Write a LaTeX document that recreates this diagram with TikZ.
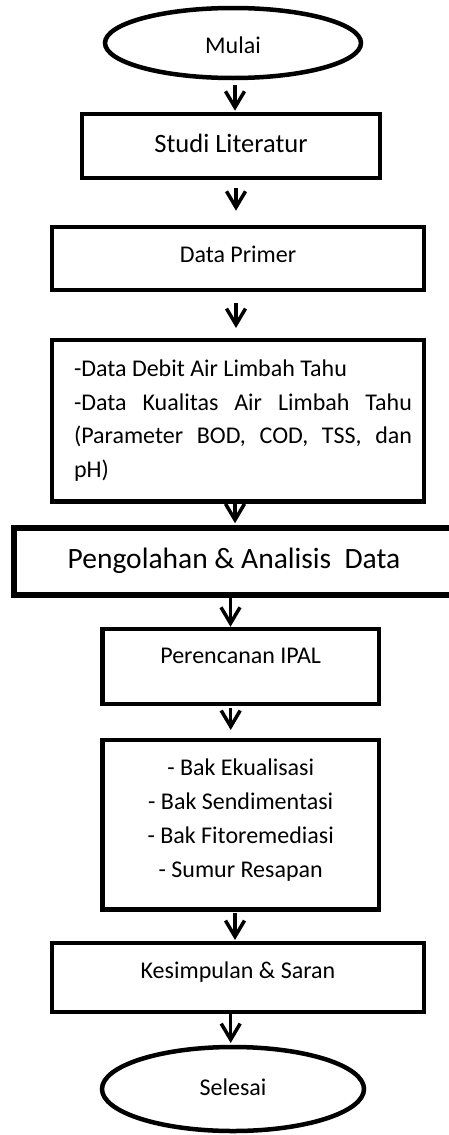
\documentclass[tikz,border=0pt]{standalone}
\usepackage{fontspec}
\setmainfont{Carlito}
\usepackage{tikz}
\usetikzlibrary{arrows.meta, shapes, positioning}
\hyphenpenalty=10000
\exhyphenpenalty=10000
\tolerance=10000

\begin{document}
\begin{tikzpicture}[x=1pt, y=-1pt,
ovalnode/.style={ellipse, draw=black, fill=white, line width=4.5pt, inner sep=0pt, font=\fontsize{24}{29}\selectfont},
boxnode/.style={rectangle, draw=black, fill=white, line width=4.5pt, inner sep=0pt, font=\fontsize{24}{29}\selectfont},
flow/.style={-{Straight Barb[length=16pt, width=19pt]}, line width=3.5pt},
]
\useasboundingbox (0,0) rectangle (449,1135);
%Nodes
\node[ovalnode, minimum width=256pt, minimum height=70pt, text height=20pt, text depth=0pt] (mulai) at (233,43) {Mulai};
\node[boxnode, minimum width=298pt, minimum height=64pt, text height=17pt, text depth=5pt, font=\fontsize{26.5}{31}\selectfont] (studi) at (231,146) {Studi Literatur};
\node[boxnode, minimum width=372pt, minimum height=63pt, text height=16pt, text depth=9pt] (primer) at (238,258.5) {Data Primer};
\node[boxnode, minimum width=372pt, minimum height=161.5pt, font=\fontsize{24}{33.7}\selectfont] (datalist) at (238,420.7) {\hspace*{10pt}\parbox{338pt}{-Data Debit Air Limbah Tahu\par -Data Kualitas Air Limbah Tahu\linebreak (Parameter BOD, COD, TSS, dan\linebreak pH)}};
\node[boxnode, line width=5.5pt, minimum width=448pt, minimum height=67pt, text height=19pt, text depth=6pt, font=\fontsize{29.5}{34}\selectfont] (olah) at (238,561.5) {Pengolahan \& Analisis\ \ Data\hspace*{8pt}};
\node[boxnode, minimum width=276.5pt, minimum height=75pt, text height=16pt, text depth=23pt] (ipal) at (240.7,666.5) {Perencanan IPAL};
\node[boxnode, minimum width=276.5pt, minimum height=169.5pt, font=\fontsize{24}{34}\selectfont] (unit) at (240.7,824.7) {\parbox{270pt}{\centering - Bak Ekualisasi\\- Bak Sendimentasi\\- Bak Fitoremediasi\\- Sumur Resapan\par\vspace{9pt}}};
\node[boxnode, minimum width=372pt, minimum height=69pt, text height=16pt, text depth=15pt] (saran) at (238,977.5) {Kesimpulan \& Saran};
\node[ovalnode, minimum width=262pt, minimum height=84pt, text height=16pt, text depth=4pt] (selesai) at (233,1089) {Selesai};

%Lines
\draw[flow, shorten <=5pt, shorten >=1pt] ([xshift=2pt]mulai.south) -- ([xshift=2pt]mulai.south |- studi.north);
\draw[flow, shorten <=8pt, shorten >=14pt] ([xshift=5pt]studi.south) -- ([xshift=5pt]studi.south |- primer.north);
\draw[flow, shorten <=10.5pt, shorten >=9.7pt] ([xshift=-2pt]primer.south) -- ([xshift=-2pt]primer.south |- datalist.north);
\draw[flow, shorten >=2pt] ([xshift=-3pt]datalist.south) -- ([xshift=-3pt]datalist.south |- olah.north);
\draw[flow] ([xshift=-7.5pt]olah.south) -- ([xshift=-7.5pt]olah.south |- ipal.north);
\draw[flow, shorten <=1.75pt, shorten >=7.75pt] ([xshift=-10pt]ipal.south) -- ([xshift=-10pt]ipal.south |- unit.north);
\draw[flow, shorten <=1pt, shorten >=0.75pt] ([xshift=-5.7pt]unit.south) -- ([xshift=-5.7pt]unit.south |- saran.north);
\draw[flow, shorten >=1.75pt] ([xshift=-7.3pt]saran.south) -- ([xshift=-7.3pt]saran.south |- selesai.north);

\end{tikzpicture}
\end{document}
